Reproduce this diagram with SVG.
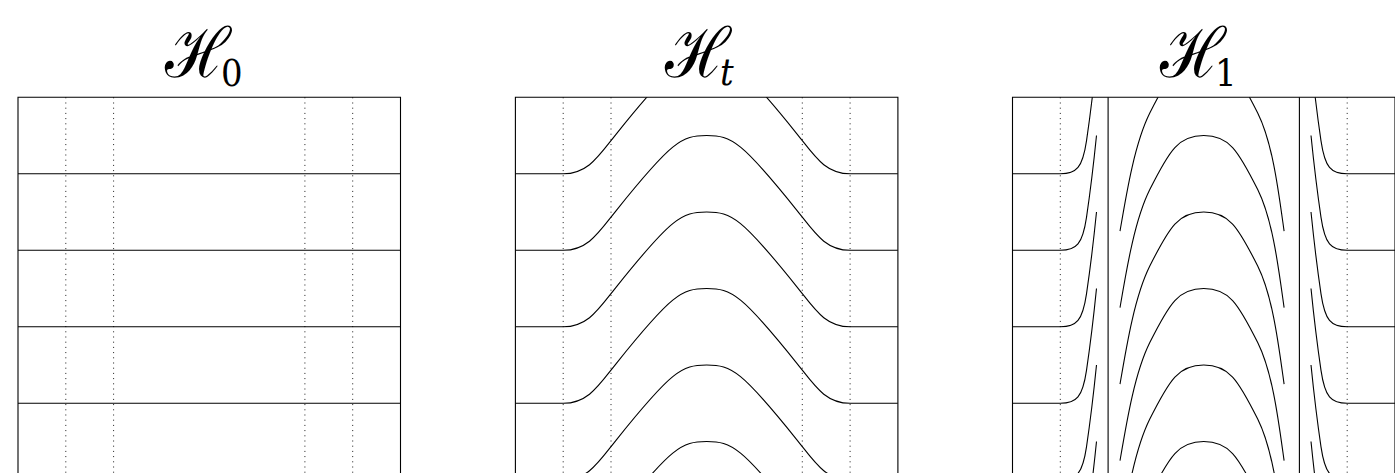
<svg xmlns="http://www.w3.org/2000/svg" xmlns:xlink="http://www.w3.org/1999/xlink" width="1395" height="473" viewBox="0 0 1395 473">
<style>
.frame{fill:none;stroke:#000;stroke-width:1.1}
.hline{fill:none;stroke:#000;stroke-width:1.1}
.dot{fill:none;stroke:#000;stroke-width:0.9;stroke-dasharray:1 4.2}
.cur{fill:none;stroke:#000;stroke-width:1.1}
.ttl{font-family:"DejaVu Serif",serif;fill:#000}
.cal{font-size:62px}
.sub{font-size:34px}
</style>
<defs>
<clipPath id="c1" clipPathUnits="userSpaceOnUse"><rect x="515.4" y="97.3" width="382.5" height="400"/></clipPath>
<clipPath id="c2" clipPathUnits="userSpaceOnUse"><rect x="1012.5" y="97.3" width="382.5" height="400"/></clipPath>
<path id="ht" class="cur" d="M0,0 H47.8 C72.8,0 83,-17.5 101,-40 C156,-108.75 166.25,-114.75 191.25,-114.75 C216.25,-114.75 226.5,-108.75 281.5,-40 C299.5,-17.5 309.7,0 334.7,0 H382.5"/>
<path id="hl" class="cur" d="M0,0 H47.8 C64,0 70,-6 74,-33 C77,-53.25 82,-95 84,-114.75"/>
<path id="hr" class="cur" d="M382.5,0 H334.7 C318.5,0 312.5,-6 308.5,-33 C305.5,-53.25 300.5,-95 298.5,-114.75"/>
<path id="ha" class="cur" d="M107.5,57.4 C114.3,17.4 122.3,-30.75 137.3,-60.75 C157.3,-100.75 166.25,-114.75 191.25,-114.75 C216.25,-114.75 225.2,-100.75 245.2,-60.75 C260.2,-30.75 266,17.4 271.6,57.4"/>
</defs>

<g id="panel-h0">
<text id="title-h0" class="ttl" transform="translate(165,77) scale(1,1.12)"><tspan class="cal">ℋ</tspan><tspan class="sub" x="56" y="8">0</tspan></text>
<g class="dot">
<line x1="65.8" y1="97.3" x2="65.8" y2="473"/>
<line x1="113.6" y1="97.3" x2="113.6" y2="473"/>
<line x1="304.9" y1="97.3" x2="304.9" y2="473"/>
<line x1="352.7" y1="97.3" x2="352.7" y2="473"/>
</g>
<g class="hline">
<line x1="18" y1="173.8" x2="400.5" y2="173.8"/>
<line x1="18" y1="250.3" x2="400.5" y2="250.3"/>
<line x1="18" y1="326.8" x2="400.5" y2="326.8"/>
<line x1="18" y1="403.3" x2="400.5" y2="403.3"/>
</g>
<path class="frame" d="M18,480 V97.3 H400.5 V480"/>
</g>

<g id="panel-ht">
<text id="title-ht" class="ttl" transform="translate(665,77) scale(1,1.12)"><tspan class="cal">ℋ</tspan><tspan class="sub" x="55" y="7.2" font-style="italic">t</tspan></text>
<g class="dot">
<line x1="563.2" y1="97.3" x2="563.2" y2="473"/>
<line x1="611" y1="97.3" x2="611" y2="473"/>
<line x1="802.3" y1="97.3" x2="802.3" y2="473"/>
<line x1="850.1" y1="97.3" x2="850.1" y2="473"/>
</g>
<g id="curves-ht" clip-path="url(#c1)">
<use xlink:href="#ht" transform="translate(515.4,173.8)"/>
<use xlink:href="#ht" transform="translate(515.4,250.3)"/>
<use xlink:href="#ht" transform="translate(515.4,326.8)"/>
<use xlink:href="#ht" transform="translate(515.4,403.3)"/>
<use xlink:href="#ht" transform="translate(515.4,479.8)"/>
<use xlink:href="#ht" transform="translate(515.4,556.3)"/>
</g>
<path class="frame" d="M515.4,480 V97.3 H897.9 V480"/>
</g>

<g id="panel-h1">
<text id="title-h1" class="ttl" transform="translate(1160,77) scale(1,1.12)"><tspan class="cal">ℋ</tspan><tspan class="sub" x="55" y="8">1</tspan></text>
<g class="dot">
<line x1="1060.3" y1="97.3" x2="1060.3" y2="473"/>
<line x1="1347.2" y1="97.3" x2="1347.2" y2="473"/>
</g>
<g class="hline">
<line x1="1108.1" y1="97.3" x2="1108.1" y2="480"/>
<line x1="1299.4" y1="97.3" x2="1299.4" y2="480"/>
</g>
<g id="curves-h1" clip-path="url(#c2)">
<use xlink:href="#hl" transform="translate(1012.5,173.8)"/>
<use xlink:href="#hl" transform="translate(1012.5,250.3)"/>
<use xlink:href="#hl" transform="translate(1012.5,326.8)"/>
<use xlink:href="#hl" transform="translate(1012.5,403.3)"/>
<use xlink:href="#hl" transform="translate(1012.5,479.8)"/>
<use xlink:href="#hl" transform="translate(1012.5,556.3)"/>
<use xlink:href="#hr" transform="translate(1012.5,173.8)"/>
<use xlink:href="#hr" transform="translate(1012.5,250.3)"/>
<use xlink:href="#hr" transform="translate(1012.5,326.8)"/>
<use xlink:href="#hr" transform="translate(1012.5,403.3)"/>
<use xlink:href="#hr" transform="translate(1012.5,479.8)"/>
<use xlink:href="#hr" transform="translate(1012.5,556.3)"/>
<use xlink:href="#ha" transform="translate(1012.5,173.8)"/>
<use xlink:href="#ha" transform="translate(1012.5,250.3)"/>
<use xlink:href="#ha" transform="translate(1012.5,326.8)"/>
<use xlink:href="#ha" transform="translate(1012.5,403.3)"/>
<use xlink:href="#ha" transform="translate(1012.5,479.8)"/>
<use xlink:href="#ha" transform="translate(1012.5,556.3)"/>
</g>
<path class="frame" d="M1012.5,480 V97.3 H1395 V480"/>
</g>
</svg>
